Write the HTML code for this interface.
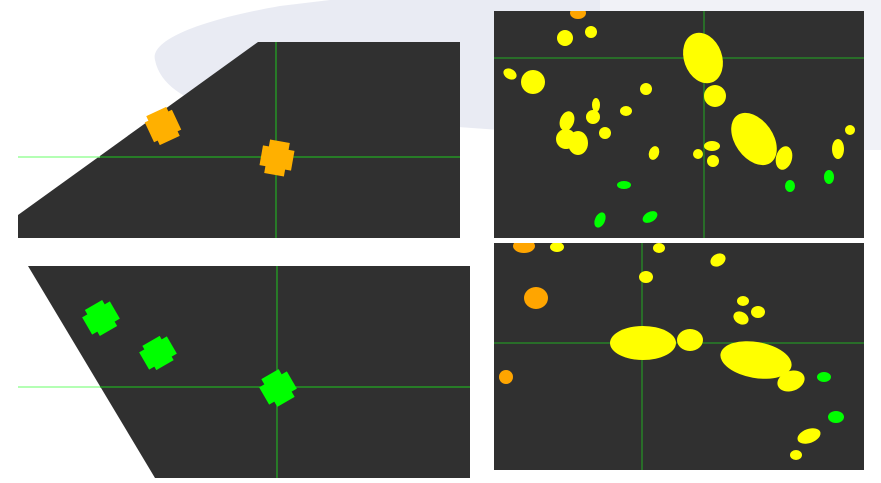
<!DOCTYPE html>
<html><head><meta charset="utf-8"><style>
html,body{margin:0;padding:0;background:#fff;width:881px;height:483px;overflow:hidden;font-family:"Liberation Sans",sans-serif}
</style></head><body>
<svg width="881" height="483" viewBox="0 0 881 483" xmlns="http://www.w3.org/2000/svg">
<g>
<path d="M280,6 C200,20 150,40 155,60 C160,85 185,100 220,110 L500,130 L881,140 L881,0 L330,0 Z" fill="#e9ebf3"/>
<path d="M600,0 L881,0 L881,150 L600,150 Z" fill="#f1f2f7"/>
</g>
<g>
<polygon points="258,42 460,42 460,238 18,238 18,215" fill="#303030"/>
<line x1="18" y1="157" x2="100" y2="157" stroke="#88ff88" stroke-width="1.2"/>
<line x1="100" y1="157" x2="460" y2="157" stroke="#22aa22" stroke-width="1.2"/>
<line x1="276" y1="42" x2="276" y2="238" stroke="#22aa22" stroke-width="1.2"/>
<g fill="#ffb000">
<g transform="translate(163,126) rotate(-25)"><rect x="-15" y="-11" width="30" height="22"/><rect x="-11" y="-16" width="22" height="32"/></g>
<g transform="translate(277,158) rotate(10)"><rect x="-16" y="-10" width="32" height="20"/><rect x="-10" y="-17" width="20" height="34"/></g>
</g>
</g>
<g>
<polygon points="28,266 470,266 470,478 155,478" fill="#303030"/>
<line x1="18" y1="387" x2="100" y2="387" stroke="#88ff88" stroke-width="1.2"/>
<line x1="100" y1="387" x2="470" y2="387" stroke="#22aa22" stroke-width="1.2"/>
<line x1="277" y1="266" x2="277" y2="478" stroke="#22aa22" stroke-width="1.2"/>
<g fill="#00ff00">
<g transform="translate(101,318) rotate(-30)"><rect x="-16" y="-10" width="32" height="20"/><rect x="-10" y="-15" width="20" height="30"/></g>
<g transform="translate(158,353) rotate(-30)"><rect x="-16" y="-10" width="32" height="20"/><rect x="-10" y="-14" width="20" height="28"/></g>
<g transform="translate(278,388) rotate(-30)"><rect x="-16" y="-10" width="32" height="20"/><rect x="-10" y="-16" width="20" height="32"/></g>
</g>
</g>
<g>
<rect x="494" y="11" width="370" height="227" fill="#303030"/>
<clipPath id="c3"><rect x="494" y="11" width="370" height="227"/></clipPath>
<g clip-path="url(#c3)">
<line x1="704" y1="11" x2="704" y2="238" stroke="#22aa22"/>
<line x1="494" y1="58" x2="864" y2="58" stroke="#22aa22"/>
<ellipse cx="578" cy="13" rx="8" ry="6" fill="#ffa500"/>
<g fill="#ffff00">
<ellipse cx="565" cy="38" rx="8" ry="8"/><ellipse cx="591" cy="32" rx="6" ry="6"/>
<ellipse cx="510" cy="74" rx="7" ry="5" transform="rotate(30 510 74)"/><ellipse cx="533" cy="82" rx="12" ry="12"/>
<ellipse cx="703" cy="58" rx="19" ry="26" transform="rotate(-20 703 58)"/><ellipse cx="715" cy="96" rx="11" ry="11"/>
<ellipse cx="646" cy="89" rx="6" ry="6"/><ellipse cx="626" cy="111" rx="6" ry="5"/>
<ellipse cx="596" cy="105" rx="4" ry="7"/><ellipse cx="593" cy="117" rx="7" ry="7"/>
<ellipse cx="567" cy="121" rx="7" ry="10" transform="rotate(20 567 121)"/><ellipse cx="566" cy="139" rx="10" ry="10"/>
<ellipse cx="578" cy="143" rx="10" ry="12"/><ellipse cx="605" cy="133" rx="6" ry="6"/>
<ellipse cx="654" cy="153" rx="5" ry="7" transform="rotate(20 654 153)"/>
<ellipse cx="754" cy="139" rx="19" ry="29" transform="rotate(-35 754 139)"/>
<ellipse cx="784" cy="158" rx="8" ry="12" transform="rotate(15 784 158)"/>
<ellipse cx="712" cy="146" rx="8" ry="5"/><ellipse cx="698" cy="154" rx="5" ry="5"/><ellipse cx="713" cy="161" rx="6" ry="6"/>
<ellipse cx="838" cy="149" rx="6" ry="10"/><ellipse cx="850" cy="130" rx="5" ry="5"/>
</g>
<g fill="#00ff00">
<ellipse cx="624" cy="185" rx="7" ry="4"/><ellipse cx="790" cy="186" rx="5" ry="6"/>
<ellipse cx="829" cy="177" rx="5" ry="7"/><ellipse cx="600" cy="220" rx="5" ry="8" transform="rotate(25 600 220)"/>
<ellipse cx="650" cy="217" rx="8" ry="5" transform="rotate(-30 650 217)"/>
</g>
</g>
</g>
<g>
<rect x="494" y="243" width="370" height="227" fill="#303030"/>
<clipPath id="c4"><rect x="494" y="243" width="370" height="227"/></clipPath>
<g clip-path="url(#c4)">
<line x1="642" y1="243" x2="642" y2="470" stroke="#22aa22"/>
<line x1="494" y1="343" x2="864" y2="343" stroke="#22aa22"/>
<g fill="#ffa500">
<ellipse cx="524" cy="246" rx="11" ry="7"/><ellipse cx="536" cy="298" rx="12" ry="11"/><ellipse cx="506" cy="377" rx="7" ry="7"/>
</g>
<g fill="#ffff00">
<ellipse cx="557" cy="247" rx="7" ry="5"/><ellipse cx="659" cy="248" rx="6" ry="5"/>
<ellipse cx="718" cy="260" rx="8" ry="6" transform="rotate(-30 718 260)"/><ellipse cx="646" cy="277" rx="7" ry="6"/>
<ellipse cx="743" cy="301" rx="6" ry="5"/><ellipse cx="758" cy="312" rx="7" ry="6"/>
<ellipse cx="741" cy="318" rx="8" ry="6" transform="rotate(30 741 318)"/>
<ellipse cx="643" cy="343" rx="33" ry="17"/><ellipse cx="690" cy="340" rx="13" ry="11"/>
<ellipse cx="756" cy="360" rx="36" ry="18" transform="rotate(10 756 360)"/>
<ellipse cx="791" cy="381" rx="14" ry="10" transform="rotate(-20 791 381)"/>
<ellipse cx="809" cy="436" rx="12" ry="7" transform="rotate(-20 809 436)"/>
<ellipse cx="796" cy="455" rx="6" ry="5"/>
</g>
<g fill="#00ff00">
<ellipse cx="824" cy="377" rx="7" ry="5"/><ellipse cx="836" cy="417" rx="8" ry="6"/>
</g>
</g>
</g>
</svg>
</body></html>
